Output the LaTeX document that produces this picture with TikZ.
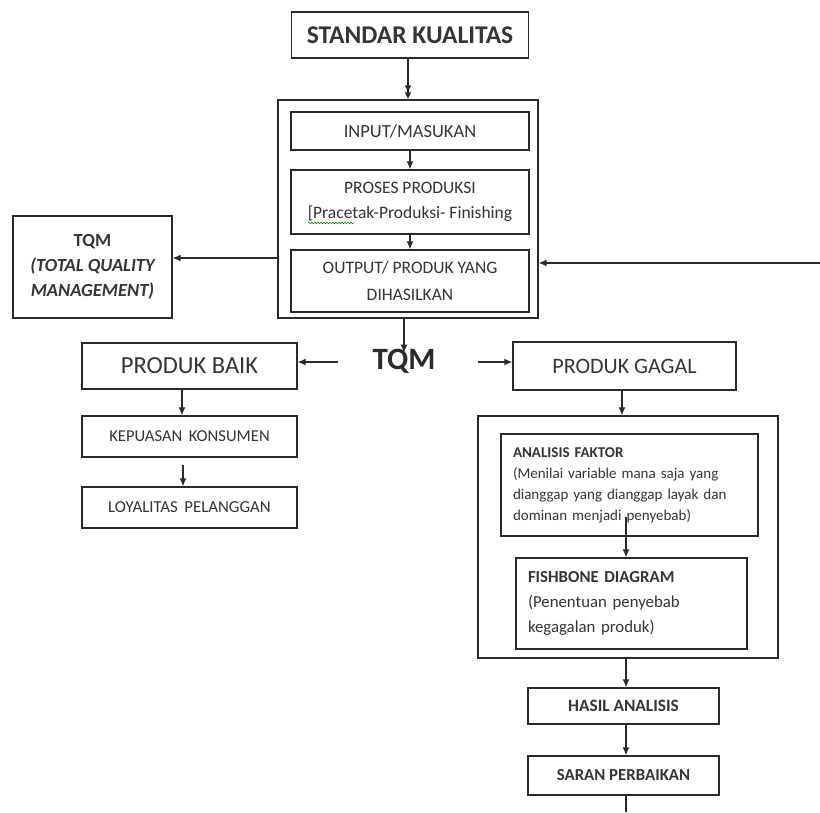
\documentclass[tikz,border=0pt]{standalone}
\usepackage{fontspec}
\setmainfont{Carlito}
\usetikzlibrary{arrows.meta,decorations.pathmorphing}
\definecolor{ink}{HTML}{2A2A2A}
\definecolor{txt}{HTML}{353535}
\tikzset{
  box/.style={draw=ink, line width=1.4pt, inner sep=0pt, align=center, text=txt},
  arr/.style={draw=ink, line width=1.2pt, -{Latex[length=8pt,width=7pt]}},
  darr/.style={draw=ink, line width=1.2pt, -{Latex[length=7pt,width=7pt]Latex[length=7pt,width=7pt]}},
  plain/.style={draw=ink, line width=1.2pt}
}
\newcommand{\fs}[2]{\fontsize{#1}{#2}\selectfont}
\begin{document}
\begin{tikzpicture}[x=1pt,y=-1pt]
\useasboundingbox (0,0) rectangle (820,812);
\fill[white] (0,0) rectangle (820,812);

% top
\node[box, minimum width=237pt, minimum height=46pt, font=\fs{25.5}{28}\bfseries] (sk) at (410,35) {STANDAR KUALITAS};
\node[box, minimum width=260pt, minimum height=218pt] (outer1) at (408,209) {};
\node[box, minimum width=238pt, minimum height=38pt, font=\fs{18.5}{21}] (inp) at (410,131) {INPUT/MASUKAN};
\node[box, minimum width=238pt, minimum height=64pt, font=\fs{17.5}{25}] (pros) at (410,202) {PROSES PRODUKSI\\{[}Pracetak-Produksi- Finishing};
\node[box, minimum width=238pt, minimum height=62pt, font=\fs{17.5}{27}] (outp) at (410,281) {OUTPUT/ PRODUK YANG\\DIHASILKAN};
\draw[green!55!black, line width=0.6pt, decorate, decoration={snake, amplitude=0.8pt, segment length=3pt}] (308,223) -- (354,223);

% TQM box left
\node[box, minimum width=159pt, minimum height=102pt, font=\fs{18.5}{25}\bfseries] (tqmbox) at (92.5,267) {TQM\\\itshape (TOTAL QUALITY\\\itshape MANAGEMENT)};

% TQM center
\node[inner sep=0pt, text=ink, font=\fs{31}{31}\bfseries] (tqm) at (404,361) {TQM};

\node[box, minimum width=215pt, minimum height=46pt, font=\fs{24.5}{28}] (pb) at (189.5,366) {PRODUK BAIK};
\node[box, minimum width=215pt, minimum height=41pt, font=\fs{16.6}{20}] (kep) at (189.5,436.5) {KEPUASAN \,KONSUMEN};
\node[box, minimum width=215pt, minimum height=41pt, font=\fs{16.8}{20}] (loy) at (189.5,507.5) {LOYALITAS \,PELANGGAN};

\node[box, minimum width=223pt, minimum height=48pt, font=\fs{22}{26}] (pg) at (624.5,366) {PRODUK GAGAL};
\node[box, minimum width=300pt, minimum height=242pt] (outer2) at (628,537) {};
\node[box, minimum width=257pt, minimum height=102pt, text width=233pt, align=left, font=\fs{15}{21}] (an) at (629.5,485) {\textbf{ANALISIS FAKTOR}\\(Menilai variable mana saja yang\\dianggap yang dianggap layak dan\\dominan menjadi penyebab)};
\node[box, minimum width=231pt, minimum height=91pt, text width=207pt, align=left, font=\fs{16.8}{25}] (fb) at (631.5,603.5) {\textbf{FISHBONE DIAGRAM}\\(Penentuan penyebab\\kegagalan produk)};
\node[box, minimum width=191pt, minimum height=36pt, font=\fs{17.3}{20}\bfseries] (has) at (623.5,706) {HASIL ANALISIS};
\node[box, minimum width=191pt, minimum height=39pt, font=\fs{16.8}{20}\bfseries] (sar) at (623.5,775.5) {SARAN PERBAIKAN};

% coordinates
\coordinate (yl) at (0,258);
\coordinate (rin) at (820,263);
\coordinate (pbst) at (338,362);
\coordinate (pgst) at (478,362);
\coordinate (ana) at (626,517);
\coordinate (bot) at (626,812);

% connectors
\draw[darr] (sk.south -| outer1.north) -- (outer1.north);
\draw[arr] (inp.south) -- (pros.north);
\draw[arr] (pros.south) -- (outp.north);
\draw[arr] (outer1.west |- yl) -- (tqmbox.east |- yl);
\draw[arr] (rin) -- (outer1.east |- rin);
\draw[arr] (outer1.south -| tqm.north) -- ([yshift=-4pt]tqm.north);
\draw[arr] (pbst) -- (pb.east |- pbst);
\draw[arr] (pgst) -- (pg.west |- pgst);
\draw[arr] (pb.south -| 182,0) -- (kep.north -| 182,0);
\draw[arr, shorten <=7pt] (kep.south -| 183,0) -- (loy.north -| 183,0);
\draw[arr] (pg.south -| 622,0) -- (outer2.north -| 622,0);
\draw[arr] (ana) -- (ana |- fb.north);
\draw[arr] (outer2.south -| bot) -- (has.north -| bot);
\draw[arr] (has.south -| bot) -- (sar.north -| bot);
\draw[plain] (sar.south -| bot) -- (bot);
\end{tikzpicture}
\end{document}
